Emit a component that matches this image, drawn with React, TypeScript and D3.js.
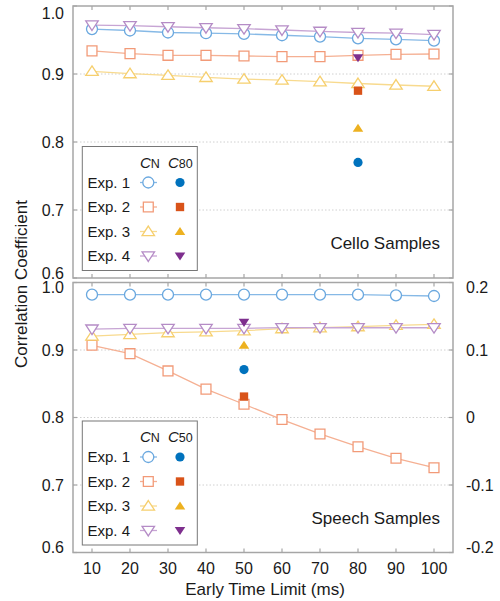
import React from "react";
import * as d3 from "d3";

// early time limits (ms)
const limits = [10, 20, 30, 40, 50, 60, 70, 80, 90, 100];

// Cello samples, CN per experiment
const celloExp1 = [0.966, 0.964, 0.961, 0.96, 0.959, 0.957, 0.955, 0.9525, 0.951, 0.949];
const celloExp2 = [0.934, 0.93, 0.9275, 0.9275, 0.9265, 0.9255, 0.9255, 0.9275, 0.929, 0.9294];
const celloExp3 = [0.904, 0.9005, 0.898, 0.895, 0.8926, 0.891, 0.8887, 0.886, 0.8838, 0.882];
const celloExp4 = [0.972, 0.971, 0.9695, 0.968, 0.9667, 0.9647, 0.9627, 0.961, 0.96, 0.958];
// C80 reference at 80 ms
const celloRefAt = 80;
const celloRef = [0.77, 0.8755, 0.82, 0.924];

// Speech samples, CN per experiment
const speechExp1 = [0.982, 0.982, 0.982, 0.982, 0.982, 0.982, 0.982, 0.982, 0.981, 0.98];
const speechExp2 = [0.907, 0.8945, 0.869, 0.842, 0.8196, 0.797, 0.7756, 0.7567, 0.7396, 0.7256];
const speechExp3 = [0.9207, 0.923, 0.9257, 0.927, 0.9286, 0.9316, 0.933, 0.9346, 0.9366, 0.938];
const speechExp4 = [0.931, 0.932, 0.932, 0.932, 0.932, 0.933, 0.933, 0.933, 0.933, 0.933];
// C50 reference at 50 ms
const speechRefAt = 50;
const speechRef = [0.871, 0.831, 0.907, 0.941];

const leftTicks = [0.6, 0.7, 0.8, 0.9, 1.0];
const rightTicks = [-0.2, -0.1, 0, 0.1, 0.2];
const expLabels = ["Exp. 1", "Exp. 2", "Exp. 3", "Exp. 4"];
const shapes = ["circle", "square", "up", "down"];

const solid = ["#0072BD", "#D95319", "#EDB120", "#7E2F8E"];
const light = ["#6aa8df", "#f29a78", "#f6cf6e", "#b58cc6"];
const lineCol = ["#86b9e6", "#f5b093", "#f8da8e", "#c7a5d4"];

const FONT = "Liberation Sans, Arial, Helvetica, sans-serif";
const frameCol = "#a6a6a6";
const textCol = "#1a1a1a";

const x = d3.scaleLinear().domain([5, 105]).range([73, 453]);
const fmt = (t: number) => (t === 0 ? "0" : d3.format(".1f")(t).replace("\u2212", "-"));

function markerPath(shape: string, cx: number, cy: number, s: number) {
  if (shape === "circle") {
    return `M${cx + s},${cy}A${s},${s} 0 1,1 ${cx - s},${cy}A${s},${s} 0 1,1 ${cx + s},${cy}Z`;
  }
  if (shape === "square") {
    const h = s * 0.95;
    return `M${cx - h},${cy - h}H${cx + h}V${cy + h}H${cx - h}Z`;
  }
  const w = s * 1.2;
  const hh = s * 1.05;
  if (shape === "up") {
    return `M${cx},${cy - hh}L${cx + w},${cy + hh * 0.75}L${cx - w},${cy + hh * 0.75}Z`;
  }
  return `M${cx},${cy + hh}L${cx + w},${cy - hh * 0.75}L${cx - w},${cy - hh * 0.75}Z`;
}

// end labels sit inside the panel edge
function labelY(pos: number, top: number, bottom: number, topShift: number) {
  if (Math.abs(pos - top) < 1) return pos + topShift;
  if (Math.abs(pos - bottom) < 1) return pos - 5;
  return pos;
}

function Panel({ top, bottom, series, refAt, refVals, refName, title, showX, rightAxis, topShift }: any) {
  const y = d3.scaleLinear().domain([0.6, 1.0]).range([bottom, top]);
  const yr = d3.scaleLinear().domain([-0.2, 0.2]).range([bottom, top]);
  const line = d3
    .line<number>()
    .x((_, i) => x(limits[i]))
    .y((d) => y(d));
  const [x0, x1] = x.range();
  const order = [0, 1, 2, 3];
  const lgTop = bottom - 131.5;
  const rowY = (i: number) => lgTop + 36 + i * 24.5;
  return (
    <g>
      {[0.7, 0.8, 0.9].map((t) => (
        <line key={t} x1={x0} x2={x1} y1={y(t)} y2={y(t)} stroke="#d0d0d0" strokeDasharray="1.5,2" />
      ))}
      {/* series lines */}
      {order.map((k) => (
        <path key={"l" + k} d={line(series[k]) || ""} fill="none" stroke={lineCol[k]} strokeWidth={1.3} />
      ))}
      {order.map((k) =>
        series[k].map((v: number, i: number) => (
          <path
            key={"m" + k + "-" + i}
            d={markerPath(shapes[k], x(limits[i]), y(v), shapes[k] === "circle" ? 5.5 : 5.2)}
            fill="white"
            stroke={light[k]}
            strokeWidth={1.3}
          />
        ))
      )}
      {/* reference values */}
      {order.map((k) => (
        <path
          key={"r" + k}
          d={markerPath(shapes[k], x(refAt), y(refVals[k]), shapes[k] === "circle" ? 4.6 : 4.4)}
          fill={solid[k]}
        />
      ))}
      {/* frame */}
      <rect x={x0} y={top} width={x1 - x0} height={bottom - top} fill="none" stroke={frameCol} strokeWidth={1.5} />
      {limits.map((t) => (
        <g key={"xt" + t}>
          <line x1={x(t)} x2={x(t)} y1={bottom} y2={bottom - 4} stroke={frameCol} strokeWidth={1.2} />
          <line x1={x(t)} x2={x(t)} y1={top} y2={top + 4} stroke={frameCol} strokeWidth={1.2} />
          {showX && (
            <text x={x(t)} y={bottom + 15.5} dy="0.36em" textAnchor="middle" fontSize={16} fill={textCol}>
              {t}
            </text>
          )}
        </g>
      ))}
      {leftTicks.map((t) => (
        <g key={"yt" + t}>
          <line x1={x0} x2={x0 + 4} y1={y(t)} y2={y(t)} stroke={frameCol} strokeWidth={1.2} />
          <line x1={x1} x2={x1 - 4} y1={y(t)} y2={y(t)} stroke={frameCol} strokeWidth={1.2} />
          <text x={64} y={labelY(y(t), top, bottom, topShift)} dy="0.36em" textAnchor="end" fontSize={16} fill={textCol}>
            {fmt(t)}
          </text>
        </g>
      ))}
      {rightAxis &&
        rightTicks.map((t) => (
          <text
            key={"rt" + t}
            x={466}
            y={labelY(yr(t), top, bottom, topShift)}
            dy="0.36em"
            textAnchor="start"
            fontSize={16}
            fill={textCol}
          >
            {fmt(t)}
          </text>
        ))}
      <text x={440} y={y(0.6) - 35} dy="0.36em" textAnchor="end" fontSize={17} fill={textCol}>
        {title}
      </text>
      {/* legend */}
      <rect x={82.3} y={lgTop} width={115} height={124} fill="white" stroke="#777" strokeWidth={1} />
      <text x={140} y={lgTop + 16} dy="0.36em" fontSize={15} fill={textCol}>
        <tspan fontStyle="italic">C</tspan>
        <tspan fontSize={12.5}>N</tspan>
      </text>
      <text x={168} y={lgTop + 16} dy="0.36em" fontSize={15} fill={textCol}>
        <tspan fontStyle="italic">C</tspan>
        <tspan fontSize={12.5}>{refName}</tspan>
      </text>
      {order.map((k) => (
        <g key={"lg" + k}>
          <text x={87.5} y={rowY(k)} dy="0.36em" fontSize={15} fill={textCol}>
            {expLabels[k]}
          </text>
          <line x1={140} x2={157} y1={rowY(k)} y2={rowY(k)} stroke={lineCol[k]} strokeWidth={1.3} />
          <path
            d={markerPath(shapes[k], 148.3, rowY(k), shapes[k] === "circle" ? 5.5 : 5.2)}
            fill="white"
            stroke={light[k]}
            strokeWidth={1.3}
          />
          <path d={markerPath(shapes[k], 180, rowY(k), shapes[k] === "circle" ? 4.6 : 4.4)} fill={solid[k]} />
        </g>
      ))}
    </g>
  );
}

export default function App() {
  return (
    <svg width={500} height={601} style={{ position: "absolute", left: 0, top: 0, background: "white" }} fontFamily={FONT}>
      <Panel
        top={6}
        bottom={278}
        series={[celloExp1, celloExp2, celloExp3, celloExp4]}
        refAt={celloRefAt}
        refVals={celloRef}
        refName="80"
        title="Cello Samples"
        showX={false}
        rightAxis={false}
        topShift={7.5}
      />
      <Panel
        top={282.5}
        bottom={552.5}
        series={[speechExp1, speechExp2, speechExp3, speechExp4]}
        refAt={speechRefAt}
        refVals={speechRef}
        refName="50"
        title="Speech Samples"
        showX={true}
        rightAxis={true}
        topShift={5}
      />
      <text x={265} y={589} dy="0.36em" textAnchor="middle" fontSize={17} fill={textCol}>
        Early Time Limit (ms)
      </text>
      <text
        transform="translate(21,284) rotate(-90)"
        dy="0.36em"
        textAnchor="middle"
        fontSize={17}
        fill={textCol}
      >
        Correlation Coefficient
      </text>
    </svg>
  );
}
